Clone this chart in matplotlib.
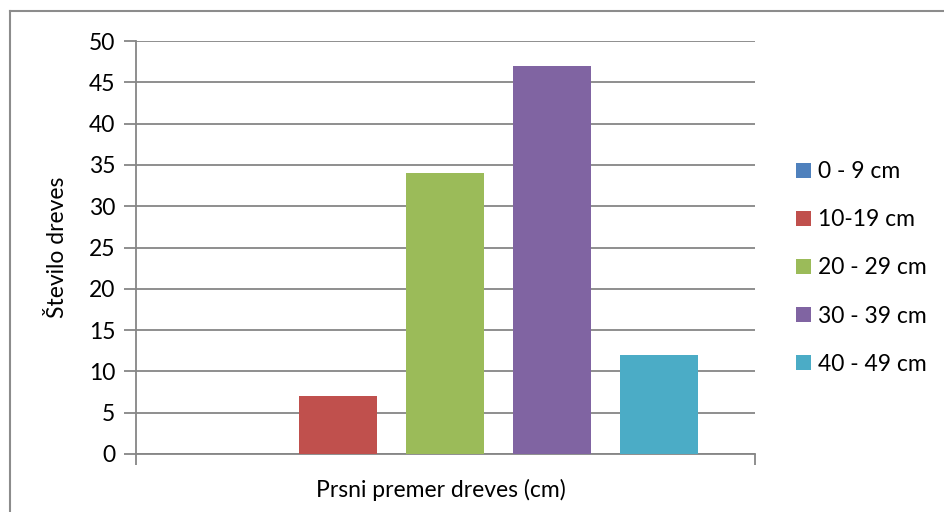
import matplotlib
matplotlib.use("Agg")
import matplotlib.pyplot as plt
from matplotlib.lines import Line2D
from matplotlib.patches import Patch

# Tree counts by trunk diameter class
classes = ["0 - 9 cm", "10-19 cm", "20 - 29 cm", "30 - 39 cm", "40 - 49 cm"]
counts = [0, 7, 34, 47, 12]
colors = ["#4F81BD", "#C0504D", "#9BBB59", "#8064A2", "#4BACC6"]
y_ticks = [0, 5, 10, 15, 20, 25, 30, 35, 40, 45, 50]

plt.rcParams["font.family"] = ["Lato", "DejaVu Sans"]
FS = 16.5
W, H = 944, 512
fig = plt.figure(figsize=(W / 100, H / 100), dpi=100)
ax = fig.add_axes([136 / W, 1 - 454 / H, (755 - 136) / W, (454 - 41) / H])

grid_c = "#868686"
positions = list(range(len(classes)))
ax.bar(positions, counts, width=0.72, color=colors, zorder=3)

ax.set_ylim(0, 50)
ax.set_xlim(-0.888, 4.897)
ax.set_yticks(y_ticks)
ax.set_yticklabels([str(v) for v in y_ticks], fontsize=FS)
ax.yaxis.grid(True, color=grid_c, linewidth=1.3, zorder=0)
ax.tick_params(axis="y", length=9, width=1.3, color=grid_c, pad=6)

ax.set_xticks([-0.888, 4.897])
ax.set_xticklabels(["", ""])
ax.tick_params(axis="x", length=8, width=1.3, color=grid_c)

for side in ("top", "right"):
    ax.spines[side].set_visible(False)
for side in ("left", "bottom"):
    ax.spines[side].set_color(grid_c)
    ax.spines[side].set_linewidth(1.3)

fig.text(58 / W, 1 - 247 / H, "Število dreves", fontsize=FS, rotation=90,
         ha="center", va="center")
fig.text(441 / W, 1 - 490 / H, "Prsni premer dreves (cm)", fontsize=FS,
         ha="center", va="center")

handles = [Patch(facecolor=c, edgecolor="none") for c in colors]
fig.legend(handles, classes, loc="center left", bbox_to_anchor=(775 / W, 1 - 268 / H),
           frameon=False, fontsize=FS, handlelength=0.66, handleheight=0.66,
           handletextpad=0.3, labelspacing=1.18)

# outer chart frame
fig.add_artist(Line2D([10 / W, 10 / W], [0, 1 - 11 / H], color="#8c8c8c", linewidth=1.5))
fig.add_artist(Line2D([10 / W, 1], [1 - 11 / H, 1 - 11 / H], color="#8c8c8c", linewidth=1.5))

fig.savefig("out.png", dpi=100, facecolor="white")
